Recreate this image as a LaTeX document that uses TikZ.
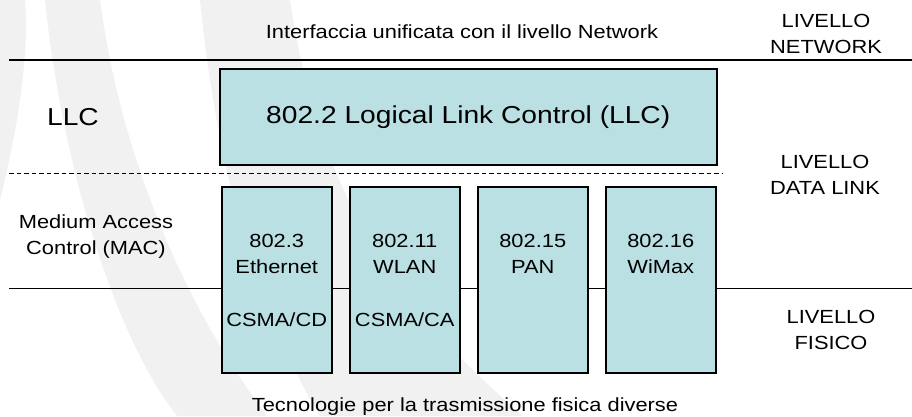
\documentclass[tikz,border=0pt]{standalone}
\usepackage{fontspec}
\setmainfont[FakeStretch=1.15]{Liberation Sans}
\usepackage{tikz}
\usetikzlibrary{positioning}
\definecolor{boxTeal}{RGB}{187,224,227}
\definecolor{wmGray}{RGB}{241,241,241}

\begin{document}
\begin{tikzpicture}[
    x=1pt, y=-1pt,
    txt/.style={font=\fontsize{19}{26}\selectfont, align=center, inner sep=0pt},
    bigtxt/.style={font=\fontsize{24.5}{30}\selectfont, inner sep=0pt},
    macbox/.style={draw, line width=1.5pt, fill=boxTeal, anchor=north west,
      minimum width=110pt, minimum height=186pt, inner sep=0pt},
    layer/.style={line width=1.6pt}
  ]
  \useasboundingbox (0,0) rectangle (912,416);
  % Watermark
  \fill[wmGray] (0,0) -- (25,0) .. controls (30,60) and (15,140) .. (0,200) -- cycle;
  \fill[wmGray] (45,0) -- (100,0) .. controls (120,150) and (180,300) .. (267,416)
    -- (177,416) .. controls (110,330) and (60,150) .. (45,0) -- cycle;
  \fill[wmGray] (200,0) -- (290,0) .. controls (320,200) and (400,310) .. (523,416)
    -- (320,416) .. controls (250,300) and (215,150) .. (200,0) -- cycle;
  % Layer separators
  \coordinate (netL) at (9,60);
  \coordinate (netR) at (912,60);
  \coordinate (dlL) at (9,173.5);
  \coordinate (dlR) at (722,173.5);
  \coordinate (phL) at (9,288.5);
  \coordinate (phR) at (912,288.5);
  \draw[layer] (netL) -- (netR);
  \draw[line width=1.5pt, dash pattern=on 4.5pt off 3pt] (dlL) -- (dlR);
  \draw[layer] (phL) -- (phR);
  % LLC
  \node[draw, line width=1.5pt, fill=boxTeal, anchor=north west,
    minimum width=497pt, minimum height=96pt, bigtxt] (llc) at (219,68)
    {802.2 Logical Link Control (LLC)};
  % MAC
  \node[macbox] (mac1) at (221,186) {};
  \node[macbox] (mac2) at (349,186) {};
  \node[macbox] (mac3) at (477,186) {};
  \node[macbox] (mac4) at (605,186) {};
  \node[txt, below=48pt of mac1.north] (mac1txt) {802.3\\Ethernet\\[27pt]CSMA/CD};
  \node[txt, below=48pt of mac2.north] (mac2txt) {802.11\\WLAN\\[27pt]CSMA/CA};
  \node[txt, below=48pt of mac3.north] (mac3txt) {802.15\\PAN};
  \node[txt, below=48pt of mac4.north] (mac4txt) {802.16\\WiMax};
  % Labels
  \node[txt] (iface) at (462,32) {Interfaccia unificata con il livello Network};
  \node[txt] (tecno) at (465,407) {Tecnologie per la trasmissione fisica diverse};
  \node[bigtxt] (llclbl) at (73,117) {LLC};
  \node[txt] (maclbl) at (96,237) {Medium Access\\Control (MAC)};
  \node[txt] (netlvl) at (826,33.5) {LIVELLO\\NETWORK};
  \node[txt] (dllvl) at (825,175) {LIVELLO\\DATA LINK};
  \node[txt] (phlvl) at (831,330) {LIVELLO\\FISICO};
\end{tikzpicture}
\end{document}
